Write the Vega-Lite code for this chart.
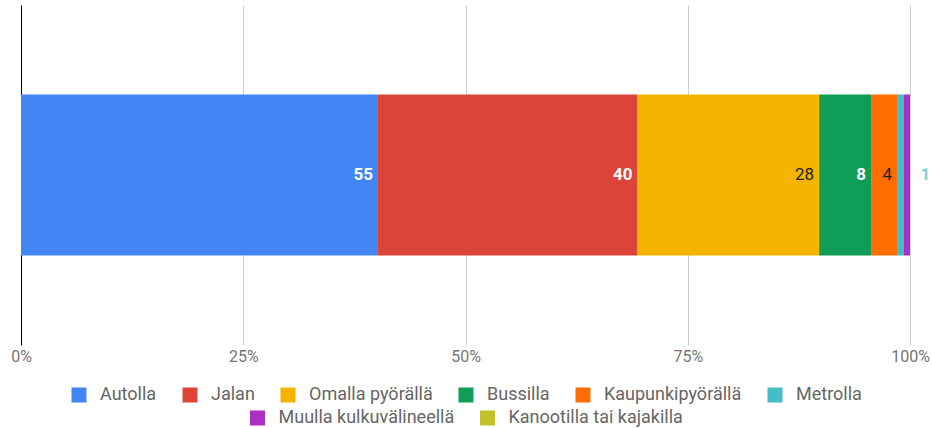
{
  "$schema": "https://vega.github.io/schema/vega-lite/v6.json",
  "width": 889,
  "height": 340,
  "autosize": {"type": "none"},
  "padding": {"left": 21, "top": 5, "right": 22, "bottom": 83},
  "background": "white",
  "data": {
    "values": [
      {"mode": "Autolla", "value": 55, "ord": 1, "cat": "all"},
      {"mode": "Jalan", "value": 40, "ord": 2, "cat": "all"},
      {"mode": "Omalla pyörällä", "value": 28, "ord": 3, "cat": "all"},
      {"mode": "Bussilla", "value": 8, "ord": 4, "cat": "all"},
      {"mode": "Kaupunkipyörällä", "value": 4, "ord": 5, "cat": "all"},
      {"mode": "Metrolla", "value": 1, "ord": 6, "cat": "all"},
      {"mode": "Muulla kulkuvälineellä", "value": 1, "ord": 7, "cat": "all"},
      {"mode": "Kanootilla tai kajakilla", "value": 0, "ord": 8, "cat": "all"}
    ]
  },
  "transform": [
    {"stack": "value", "groupby": [], "sort": [{"field": "ord", "order": "ascending"}], "as": ["v0", "v1"], "offset": "normalize"}
  ],
  "encoding": {
    "y": {
      "field": "cat", "type": "nominal",
      "scale": {"paddingInner": 0, "paddingOuter": 0.556},
      "axis": {"labels": false, "ticks": false, "title": null, "grid": false, "domain": true, "domainColor": "#000000", "domainWidth": 1}
    }
  },
  "layer": [
    {
      "transform": [{"filter": "datum.ord <= 6"}],
      "mark": {"type": "bar"},
      "encoding": {
        "x": {"field": "v0", "type": "quantitative", "scale": {"domain": [0, 1], "nice": false}, "axis": {"format": "%", "values": [0, 0.25, 0.5, 0.75, 1], "title": null}},
        "x2": {"field": "v1"},
        "color": {
          "field": "mode", "type": "nominal",
          "scale": {"domain": ["Autolla", "Jalan", "Omalla pyörällä", "Bussilla", "Kaupunkipyörällä", "Metrolla"], "range": ["#4285F4", "#DB4437", "#F4B400", "#0F9D58", "#FF6D00", "#46BDC6"]},
          "legend": {"title": null, "orient": "bottom", "direction": "horizontal"}
        }
      }
    },
    {
      "transform": [{"filter": "datum.ord >= 7"}],
      "mark": {"type": "bar"},
      "encoding": {
        "x": {"field": "v0", "type": "quantitative", "scale": {"domain": [0, 1], "nice": false}, "axis": {"format": "%", "values": [0, 0.25, 0.5, 0.75, 1], "title": null}},
        "x2": {"field": "v1"},
        "fill": {
          "field": "mode", "type": "nominal",
          "scale": {"domain": ["Muulla kulkuvälineellä", "Kanootilla tai kajakilla"], "range": ["#AB30C4", "#C2C12A"]},
          "legend": {"title": null, "orient": "bottom", "direction": "horizontal"}
        }
      }
    },
    {
      "transform": [{"filter": "datum.mode === 'Autolla' || datum.mode === 'Jalan' || datum.mode === 'Bussilla'"}],
      "mark": {"type": "text", "align": "right", "baseline": "middle", "dx": -5, "font": "Roboto", "fontSize": 17, "fontWeight": "bold", "color": "#ffffff"},
      "encoding": {
        "x": {"field": "v1", "type": "quantitative", "scale": {"domain": [0, 1], "nice": false}, "axis": {"format": "%", "values": [0, 0.25, 0.5, 0.75, 1], "title": null}},
        "text": {"field": "value", "type": "quantitative"}
      }
    },
    {
      "transform": [{"filter": "datum.mode === 'Omalla pyörällä' || datum.mode === 'Kaupunkipyörällä'"}],
      "mark": {"type": "text", "align": "right", "baseline": "middle", "dx": -5, "font": "Roboto", "fontSize": 17, "color": "#222222"},
      "encoding": {
        "x": {"field": "v1", "type": "quantitative", "scale": {"domain": [0, 1], "nice": false}, "axis": {"format": "%", "values": [0, 0.25, 0.5, 0.75, 1], "title": null}},
        "text": {"field": "value", "type": "quantitative"}
      }
    },
    {
      "transform": [{"filter": "datum.mode === 'Metrolla'"}],
      "mark": {"type": "text", "align": "left", "baseline": "middle", "dx": 17, "font": "Roboto", "fontSize": 17, "fontWeight": "bold", "color": "#80D0D8"},
      "encoding": {
        "x": {"field": "v1", "type": "quantitative", "scale": {"domain": [0, 1], "nice": false}, "axis": {"format": "%", "values": [0, 0.25, 0.5, 0.75, 1], "title": null}},
        "text": {"field": "value", "type": "quantitative"}
      }
    }
  ],
  "config": {
    "view": {"stroke": null},
    "axisX": {"domain": false, "ticks": false, "grid": true, "gridColor": "#cccccc", "labelFont": "Roboto", "labelFontSize": 16, "labelColor": "#757575", "labelPadding": 3, "labelFlush": false},
    "legend": {
      "symbolType": "square", "symbolSize": 225, "symbolStrokeWidth": 0,
      "labelFont": "Roboto", "labelFontSize": 18, "labelColor": "#666666", "labelLimit": 400,
      "labelOffset": 12, "columnPadding": 24, "offset": 22, "padding": 0,
      "layout": {"bottom": {"anchor": "middle", "direction": "vertical", "center": true, "margin": 5}}
    }
  }
}
